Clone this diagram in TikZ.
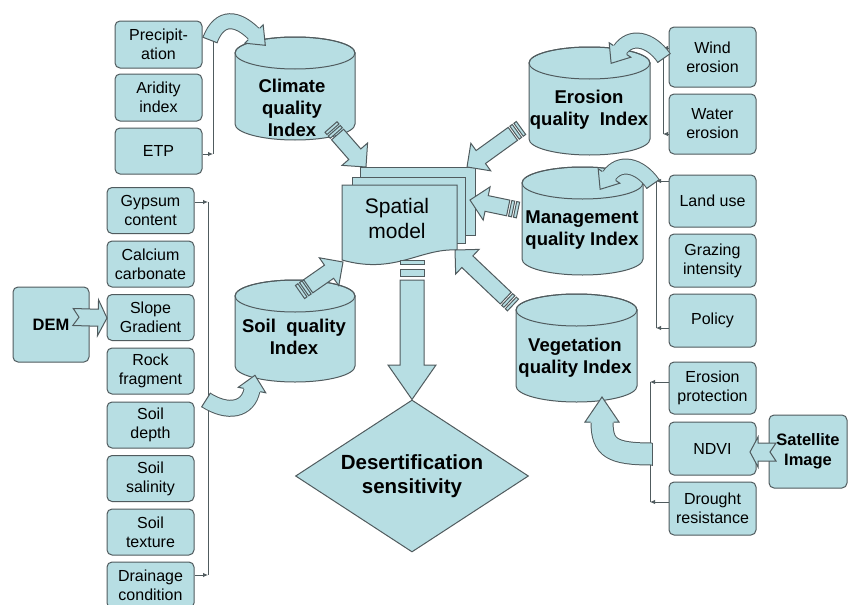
\documentclass[tikz,border=0pt]{standalone}
\usepackage{fontspec}
\setmainfont{Liberation Sans}
\usetikzlibrary{arrows.meta,shapes.geometric,calc}

\definecolor{boxfill}{HTML}{B7DEE3}
\definecolor{edgec}{HTML}{505B5E}

\newcommand\dgBoxFont{\fontsize{16}{19}\selectfont}
\newcommand\dgCylFont{\fontsize{18.5}{22}\selectfont\bfseries}
\newcommand\dgModelFont{\fontsize{21}{25}\selectfont}
\newcommand\dgDiamondFont{\fontsize{20.5}{23.5}\selectfont\bfseries}
\newcommand\dgSourceFont{\fontsize{16.5}{20}\selectfont\bfseries}

\tikzset{
  box/.style={draw=edgec, fill=boxfill, rounded corners=5pt, line width=1pt,
    minimum width=87pt, minimum height=46pt, inner sep=0pt, align=center, font=\dgBoxFont},
  source/.style={box, font=\dgSourceFont},
  blockarrow/.style={draw=edgec, fill=boxfill, line width=1pt, line join=miter},
  cylbody/.style={draw=edgec, fill=boxfill, line width=1pt},
  cyltext/.style={font=\dgCylFont, align=center, inner sep=0pt},
  feed/.style={draw=edgec, line width=0.9pt, -{Latex[length=5pt,width=4.5pt]}},
  rail/.style={draw=edgec, line width=0.9pt},
}

\makeatletter
% angle (canvas degrees) and length from one named point to another
\newcommand\dg@dir[2]{%
  \pgfpointdiff{\pgfpointanchor{#1}{center}}{\pgfpointanchor{#2}{center}}%
  \edef\dg@dx{\the\pgf@x}\edef\dg@dy{\the\pgf@y}%
  \pgfmathsetmacro\dg@len{veclen(\dg@dx,\dg@dy)}%
  \pgfmathsetmacro\dg@ang{atan2(\dg@dy,\dg@dx)}}

% straight block arrow with a striped tail: #1 tail, #2 tip
\newcommand\stripedarrow[2]{%
  \dg@dir{#1}{#2}%
  \begin{scope}[shift={(#1)}, rotate=\dg@ang]
    \filldraw[blockarrow] (0,-8) rectangle (3,8);
    \filldraw[blockarrow] (5,-8) rectangle (8,8);
    \filldraw[blockarrow] (10,-8) -- (\dg@len-17,-8) -- (\dg@len-17,-17) -- (\dg@len,0)
      -- (\dg@len-17,17) -- (\dg@len-17,8) -- (10,8) -- cycle;
  \end{scope}}

% block arrow with a notched tail: #1 tail, #2 tip, #3 shaft half width,
% #4 head half width, #5 head length, #6 notch depth
\newcommand\notcharrow[6]{%
  \dg@dir{#1}{#2}%
  \begin{scope}[shift={(#1)}, rotate=\dg@ang]
    \filldraw[blockarrow] (0,-#3) -- (\dg@len-#5,-#3) -- (\dg@len-#5,-#4) -- (\dg@len,0)
      -- (\dg@len-#5,#4) -- (\dg@len-#5,#3) -- (0,#3) -- (#6,0) -- cycle;
  \end{scope}}

% bent block arrow: #1 start, #2 #3 controls, #4 head base, #5 shaft width,
% #6 head half width, #7 head length
\newcommand\bentarrow[7]{%
  \coordinate (dg@s) at #1; \coordinate (dg@a) at #2;
  \coordinate (dg@b) at #3; \coordinate (dg@e) at #4;
  \draw[line width=#5pt+2pt, draw=edgec] (dg@s) .. controls (dg@a) and (dg@b) .. (dg@e);
  \draw[line width=#5pt, draw=boxfill] (dg@s) .. controls (dg@a) and (dg@b) .. (dg@e);
  \dg@dir{dg@b}{dg@e}%
  \begin{scope}[shift={(dg@e)}, rotate=\dg@ang]
    \fill[boxfill] (-0.6,-#6) -- (#7,0) -- (-0.6,#6) -- cycle;
    \draw[edgec, line width=1pt, line join=miter]
      (0,-#5/2-1) -- (0,-#6) -- (#7,0) -- (0,#6) -- (0,#5/2+1);
  \end{scope}
  \dg@dir{dg@a}{dg@s}%
  \begin{scope}[shift={(dg@s)}, rotate=\dg@ang]
    \draw[edgec, line width=1pt] (0,-#5/2-1) -- (0,#5/2+1);
  \end{scope}}

% database cylinder: #1 name, #2 left, #3 top, #4 right, #5 bottom
\newcommand\dbcylinder[5]{%
  \filldraw[cylbody] (#2,#3+16) -- (#2,#5-16)
    arc[start angle=180, end angle=360, x radius={(#4-#2)/2*1pt}, y radius=16pt]
    -- (#4,#3+16)
    arc[start angle=0, end angle=180, x radius={(#4-#2)/2*1pt}, y radius=16pt] -- cycle;
  \draw[cylbody, fill=none] ({(#2+#4)/2},#3+16) ellipse[x radius={(#4-#2)/2*1pt}, y radius=16pt];
  \node[inner sep=0pt, minimum width={(#4-#2)*1pt}, minimum height={(#5-#3)*1pt}]
    (#1) at ({(#2+#4)/2},{(#3+#5)/2}) {};}
\makeatother

\begin{document}
\begin{tikzpicture}[x=1pt, y=-1pt]
\fill[white] (0,0) rectangle (849,605);
\useasboundingbox (0,0) rectangle (849,605);

% ---------- climate inputs ----------
\node[box, minimum height=47pt] (precip) at (158.5,44.5) {Precipit-\\ation};
\node[box, minimum height=47pt] (arid) at (158.5,97.5) {Aridity\\index};
\node[box] (etp) at (158.5,151) {ETP};
\coordinate (cbTop) at (213,35);
\coordinate (cbBot) at (213,154);
\draw[rail] (cbTop) -- (cbBot);
\draw[feed] (precip.east |- cbTop) -- (cbTop);
\draw[feed] (etp.east |- cbBot) -- (cbBot);

% ---------- soil inputs ----------
\node[box] (gyps)  at (150.5,210.5) {Gypsum\\content};
\node[box] (calc)  at (150.5,264)   {Calcium\\carbonate};
\node[box] (slope) at (150.5,317.5) {Slope\\Gradient};
\node[box] (rock)  at (150.5,371)   {Rock\\fragment};
\node[box] (depth) at (150.5,425)   {Soil\\depth};
\node[box] (salin) at (150.5,478.5) {Soil\\salinity};
\node[box] (textr) at (150.5,532)   {Soil\\texture};
\node[box] (drain) at (150.5,585)   {Drainage\\condition};
\coordinate (sbTop) at (208,202);
\coordinate (sbBot) at (208,575);
\draw[rail] (sbTop) -- (sbBot);
\draw[feed] (gyps.east |- sbTop) -- (sbTop);
\draw[feed] (drain.east |- sbBot) -- (sbBot);

\node[source, minimum width=76pt, minimum height=75pt] (dem) at (51,324.5) {DEM};
\coordinate (demTail) at (73,317);
\coordinate (demTip) at (107,318);
\notcharrow{demTail}{demTip}{8.5}{18}{9}{6}

% ---------- erosion inputs ----------
\node[box, minimum height=60pt] (wind)  at (712.5,57)  {Wind\\erosion};
\node[box, minimum height=60pt] (water) at (712.5,124) {Water\\erosion};
\coordinate (ebTop) at (663,48);
\coordinate (ebBot) at (663,134);
\draw[rail] (ebTop) -- (ebBot);
\draw[feed] (wind.west |- ebTop) -- (ebTop);
\draw[feed] (water.west |- ebBot) -- (ebBot);

% ---------- management inputs ----------
\node[box, minimum height=52pt] (landuse) at (712.5,201)   {Land use};
\node[box, minimum height=53pt] (grazing) at (712.5,260.5) {Grazing\\intensity};
\node[box, minimum height=53pt] (policy)  at (712.5,320.5) {Policy};
\coordinate (mbTop) at (656,181);
\coordinate (mbBot) at (656,328);
\draw[rail] (mbTop) -- (mbBot);
\draw[feed] (landuse.west |- mbTop) -- (mbTop);
\draw[feed] (policy.west |- mbBot) -- (mbBot);

% ---------- vegetation inputs ----------
\node[box, minimum height=52pt] (eprot)   at (712.5,388)   {Erosion\\protection};
\node[box, minimum height=53pt] (ndvi)    at (712.5,448.5) {NDVI};
\node[box, minimum height=53pt] (drought) at (712.5,508.5) {Drought\\resistance};
\coordinate (vbTop) at (650,382);
\coordinate (vbBot) at (650,502);
\draw[rail] (vbTop) -- (vbBot);
\draw[feed] (eprot.west |- vbTop) -- (vbTop);
\draw[feed] (drought.west |- vbBot) -- (vbBot);

\node[source, minimum width=78pt, minimum height=73pt] (sat) at (808,451.5) {Satellite\\Image};
\coordinate (satTail) at (776,452);
\coordinate (satTip) at (750,452);
\notcharrow{satTail}{satTip}{9}{15}{8}{6}

% ---------- quality indices ----------
\dbcylinder{climate}{235}{37}{355}{140}
\node[cyltext] (climateText) at (292,108) {Climate\\quality\\Index};
\dbcylinder{erosion}{529}{47}{650}{155}
\node[cyltext] (erosionText) at (589,110) {Erosion\\quality\ \ Index};
\dbcylinder{manage}{522}{167}{643}{275}
\node[cyltext] (manageText) at (582,230) {Management\\quality Index};
\dbcylinder{veget}{516}{294}{637}{402}
\node[cyltext] (vegetText) at (575,357.5) {Vegetation\\quality Index};
\dbcylinder{soil}{235}{280}{355}{382}
\node[cyltext] (soilText) at (294,337) {Soil\ \ quality\\Index};

% ---------- bent feed arrows ----------
\bentarrow{(210,40)}{(220,14)}{(238,18)}{(254,34)}{14}{13}{16}
\bentarrow{(664,58)}{(650,38)}{(630,35)}{(620,50)}{14}{13}{16}
\bentarrow{(653,184)}{(639,164)}{(619,161)}{(609,176)}{14}{13}{16}
\bentarrow{(206,400)}{(228,414)}{(248,410)}{(252,390)}{15}{14}{15}
\bentarrow{(652,454)}{(612,454)}{(602,448)}{(602,422)}{21}{17}{25}

% ---------- spatial model (stacked pages) ----------
\filldraw[blockarrow] (360,167) rectangle (475,235);
\filldraw[blockarrow] (352,177) rectangle (465,243);
\filldraw[blockarrow] (342,185) -- (457,185) -- (457,250)
  .. controls (420,248) and (395,275) .. (342,260) -- cycle;
\node[font=\dgModelFont, align=center, inner sep=0pt] (model) at (397,218) {Spatial\\model};

% ---------- arrows into the model ----------
\coordinate (climTail) at (331,127);   \coordinate (climTip) at (366,167);
\coordinate (erosTail) at (521,128);   \coordinate (erosTip) at (467,167);
\coordinate (mgmtTail) at (518,210);   \coordinate (mgmtTip) at (470,200);
\coordinate (vegTail)  at (513,305);   \coordinate (vegTip)  at (455,250);
\coordinate (soilTail) at (300,292);   \coordinate (soilTip) at (343,262);
\stripedarrow{climTail}{climTip}
\stripedarrow{erosTail}{erosTip}
\stripedarrow{mgmtTail}{mgmtTip}
\stripedarrow{vegTail}{vegTip}
\stripedarrow{soilTail}{soilTip}

% ---------- result ----------
\node[diamond, draw=edgec, fill=boxfill, line width=1pt, inner sep=0pt, aspect=1.53,
  minimum width=233pt, minimum height=152pt, font=\dgDiamondFont, align=center]
  (desert) at (412,476) {Desertification\\sensitivity};
\filldraw[blockarrow] (400,260) rectangle (424,264);
\filldraw[blockarrow] (400,269) rectangle (424,276);
\filldraw[blockarrow] (400,280) -- (400,365) -- (388,365) -- (desert.north)
  -- (436,365) -- (424,365) -- (424,280) -- cycle;
\end{tikzpicture}
\end{document}
